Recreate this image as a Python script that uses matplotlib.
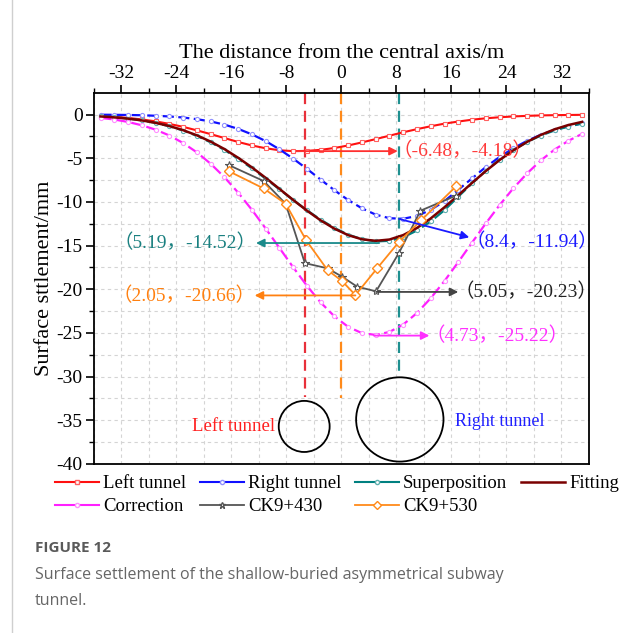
import matplotlib
matplotlib.use('Agg')
import matplotlib.pyplot as plt
from matplotlib.lines import Line2D
from matplotlib.patches import Ellipse

plt.rcParams['font.family'] = ['Liberation Serif', 'Noto Sans CJK SC']
plt.rcParams['axes.unicode_minus'] = False

# ---------------- data ----------------
x_model = [-35, -33, -31, -29, -27, -25, -23, -21, -19, -17, -15, -13, -11, -9, -7, -5, -3, -1,
           1, 3, 5, 7, 9, 11, 13, 15, 17, 19, 21, 23, 25, 27, 29, 31, 33, 35]

left_tunnel = [-0.16, -0.25, -0.38, -0.55, -0.77, -1.06, -1.40, -1.80, -2.23, -2.68, -3.13, -3.53,
               -3.85, -4.08, -4.18, -4.15, -4.03, -3.82, -3.53, -3.18, -2.80, -2.41, -2.02, -1.66,
               -1.33, -1.03, -0.79, -0.58, -0.42, -0.30, -0.21, -0.14, -0.09, -0.06, -0.04, -0.02]

right_tunnel = [-0.01, -0.02, -0.04, -0.07, -0.13, -0.21, -0.33, -0.52, -0.78, -1.14, -1.63, -2.26,
                -3.03, -3.97, -5.04, -6.21, -7.44, -8.66, -9.78, -10.73, -11.45, -11.86, -11.92,
                -11.60, -10.90, -9.90, -8.60, -7.30, -6.00, -4.85, -3.85, -3.00, -2.30, -1.75,
                -1.32, -1.00]

superposition = [-0.20, -0.30, -0.45, -0.66, -0.95, -1.33, -1.82, -2.43, -3.17, -4.04, -5.05, -6.15,
                 -7.33, -8.55, -9.78, -10.95, -12.03, -12.98, -13.74, -14.26, -14.52, -14.45,
                 -14.05, -13.26, -12.23, -10.93, -9.39, -7.88, -6.42, -5.15, -4.06, -3.14, -2.39,
                 -1.81, -1.36, -1.02]

fitting = [-0.21, -0.31, -0.46, -0.66, -0.94, -1.31, -1.78, -2.37, -3.09, -3.94, -4.94, -6.04,
           -7.24, -8.50, -9.77, -10.99, -12.11, -13.06, -13.80, -14.27, -14.45, -14.30, -13.79,
           -12.97, -11.88, -10.60, -9.22, -7.82, -6.46, -5.20, -4.09, -3.12, -2.32, -1.68, -1.19,
           -0.83]

correction = [-0.37, -0.56, -0.84, -1.22, -1.72, -2.39, -3.25, -4.32, -5.62, -7.16, -8.93, -10.90,
              -13.04, -15.26, -17.48, -19.60, -21.51, -23.10, -24.30, -25.02, -25.22, -24.88,
              -24.03, -22.71, -21.01, -19.04, -16.88, -14.65, -12.45, -10.36, -8.43, -6.73, -5.24,
              -4.00, -3.00, -2.20]

x_ck430 = [-16.3, -11.3, -8.1, -5.3, -2.0, 0.1, 2.3, 5.05, 8.4, 11.5, 16.6]
ck430 = [-5.8, -7.6, -10.2, -17.0, -17.6, -18.55, -19.7, -20.23, -15.8, -11.0, -9.3]

x_ck530 = [-16.3, -11.3, -8.1, -5.1, -2.0, 0.1, 2.05, 5.2, 8.4, 11.6, 16.7]
ck530 = [-6.5, -8.45, -10.2, -14.4, -17.8, -19.05, -20.66, -17.6, -14.55, -12.1, -8.2]

x_ticks = [-32, -24, -16, -8, 0, 8, 16, 24, 32]
y_ticks = [0, -5, -10, -15, -20, -25, -30, -35, -40]

# ---------------- figure ----------------
fig = plt.figure(figsize=(6.43, 6.33), dpi=100)
ax = fig.add_axes([0.1457, 0.267, 0.916 - 0.1457, 0.8534 - 0.267])

ax.set_xlim(-36, 36)
ax.set_ylim(-40, 2.5)

ax.xaxis.tick_top()
ax.xaxis.set_label_position('top')
ax.set_xticks(x_ticks)
ax.set_xticks([v for v in range(-36, 37, 4) if v % 8 != 0], minor=True)
ax.set_yticks(y_ticks)
ax.set_yticks([-2.5 - 5 * k for k in range(8)], minor=True)
ax.tick_params(axis='x', which='major', direction='out', length=6, width=1.2, labelsize=14, pad=2,
               top=True, bottom=False)
ax.tick_params(axis='x', which='minor', direction='out', length=3.5, width=1.0, top=True, bottom=False)
ax.tick_params(axis='y', which='major', direction='out', length=6, width=1.2, labelsize=14, pad=2,
               left=True, right=False)
ax.tick_params(axis='y', which='minor', direction='out', length=3.5, width=1.0, left=True, right=False)
for s in ax.spines.values():
    s.set_linewidth(1.3)

ax.grid(which='both', linestyle=(0, (3, 3)), color='#d4d4d4', linewidth=0.8)
ax.set_axisbelow(True)

ax.set_xlabel('The distance from the central axis/m', fontsize=16, labelpad=5)
ax.set_ylabel('Surface sttlement/mm', fontsize=16, labelpad=2)

C_RED, C_BLUE, C_TEAL, C_FIT = '#ff1010', '#1010ff', '#008080', '#7a0000'
C_MAG, C_GREY, C_ORA = '#ff20ff', '#555555', '#ff8a1a'

# vertical dashed lines (tunnel axes)
ax.plot([-5.3, -5.3], [2.5, -32.3], color='#e8303a', ls=(0, (5, 3)), lw=1.6)
ax.plot([0, 0], [2.5, -32.5], color=C_ORA, ls=(0, (5, 3)), lw=1.6)
ax.plot([8.4, 8.4], [2.5, -29.6], color='#1f9090', ls=(0, (5, 3)), lw=1.6)

# curves
ax.plot(x_model, left_tunnel, color=C_RED, lw=1.5, marker='s', ms=3, mfc='white', mec='#ff6060', mew=0.8)
ax.plot(x_model, right_tunnel, color=C_BLUE, lw=1.6, ls=(0, (5, 2)), marker='o', ms=3, mfc='white',
        mec='#9090ff', mew=0.8)
ax.plot(x_model, superposition, color=C_TEAL, lw=1.6, ls=(0, (5, 2)), marker='o', ms=3, mfc='white',
        mec='#60b0b0', mew=0.8)
ax.plot(x_model, correction, color=C_MAG, lw=1.6, ls=(0, (5, 2)), marker='o', ms=3, mfc='white',
        mec='#ff90ff', mew=0.8)
ax.plot(x_model, fitting, color=C_FIT, lw=1.8)
ax.plot(x_ck430, ck430, color=C_GREY, lw=1.3, marker='*', ms=6, mfc='white', mec=C_GREY, mew=0.8)
ax.plot(x_ck530, ck530, color=C_ORA, lw=1.3, marker='D', ms=5, mfc='white', mec=C_ORA, mew=1.0)

# tunnels
ax.add_patch(Ellipse((-5.4, -35.7), 7.4, 5.85, fill=False, ec='black', lw=1.3))
ax.add_patch(Ellipse((8.5, -34.9), 12.7, 9.65, fill=False, ec='black', lw=1.3))
ax.text(-9.6, -35.7, 'Left tunnel', color='#ff2020', fontsize=13.5, ha='right', va='center')
ax.text(16.5, -35.15, 'Right tunnel', color='#2020ff', fontsize=13, ha='left', va='center')

# annotations
def arrow(p0, p1, color):
    ax.annotate('', xy=p1, xytext=p0,
                arrowprops=dict(arrowstyle='-|>', color=color, lw=1.3, shrinkA=0, shrinkB=0,
                                mutation_scale=12))

AFS = 14
arrow((-6.48, -4.18), (8.2, -4.18), '#ff3030')
ax.text(7.5, -4.18, '（-6.48，-4.18）', color='#ff3a3a', fontsize=AFS, ha='left', va='center')

arrow((8.4, -11.94), (18.6, -14.05), '#1a1aff')
ax.text(18.0, -14.6, '（8.4，-11.94）', color='#1a1aff', fontsize=AFS, ha='left', va='center')

arrow((5.5, -14.7), (-12.4, -14.7), '#1a8a8a')
ax.text(-12.3, -14.7, '（5.19，-14.52）', color='#1a8080', fontsize=AFS, ha='right', va='center')

arrow((2.05, -20.7), (-12.6, -20.7), '#ff8010')
ax.text(-12.5, -20.7, '（2.05，-20.66）', color='#ff8010', fontsize=AFS, ha='right', va='center')

arrow((5.05, -20.3), (17.0, -20.3), '#444444')
ax.text(16.4, -20.3, '（5.05，-20.23）', color='#222222', fontsize=AFS, ha='left', va='center')

arrow((4.73, -25.3), (12.8, -25.3), '#ff30ff')
ax.text(12.2, -25.3, '（4.73，-25.22）', color='#ff30ff', fontsize=AFS, ha='left', va='center')

# legend
h_left = Line2D([], [], color=C_RED, lw=1.5, marker='s', ms=3, mfc='white', mec='#ff6060')
h_right = Line2D([], [], color=C_BLUE, lw=1.5, marker='o', ms=3, mfc='white', mec='#9090ff')
h_sup = Line2D([], [], color=C_TEAL, lw=1.5, marker='o', ms=3, mfc='white', mec='#60b0b0')
h_fit = Line2D([], [], color=C_FIT, lw=1.8)
h_cor = Line2D([], [], color=C_MAG, lw=1.5, marker='o', ms=3, mfc='white', mec='#ff90ff')
h_430 = Line2D([], [], color=C_GREY, lw=1.3, marker='*', ms=5, mfc='white', mec=C_GREY)
h_530 = Line2D([], [], color=C_ORA, lw=1.3, marker='D', ms=4.5, mfc='white', mec=C_ORA)
handles = [h_left, h_cor, h_right, h_430, h_sup, h_530, h_fit]
labels = ['Left tunnel', 'Correction', 'Right tunnel', 'CK9+430', 'Superposition', 'CK9+530', 'Fitting']
fig.legend(handles, labels, ncol=4, loc='upper left', bbox_to_anchor=(55 / 643, 1 - 475 / 633),
           frameon=False, fontsize=13.5, handlelength=2.35, handletextpad=0.2, columnspacing=0.75,
           labelspacing=0.32, borderpad=0, borderaxespad=0)

# caption and page frame
fig.add_artist(Line2D([12 / 643, 12 / 643], [0, 1], transform=fig.transFigure, color='#cfcfcf', lw=1))
cap_font = ['Open Sans', 'DejaVu Sans']
fig.text(35 / 643, 1 - 548 / 633, 'FIGURE 12', family=cap_font, fontsize=11, fontweight='bold',
         color='#5a5a5a', va='center')
fig.text(35 / 643, 1 - 575 / 633, 'Surface settlement of the shallow-buried asymmetrical subway',
         family=cap_font, fontsize=11.5, color='#666666', va='center')
fig.text(35 / 643, 1 - 601 / 633, 'tunnel.', family=cap_font, fontsize=11.5, color='#666666', va='center')

fig.savefig('out.png', dpi=100)
